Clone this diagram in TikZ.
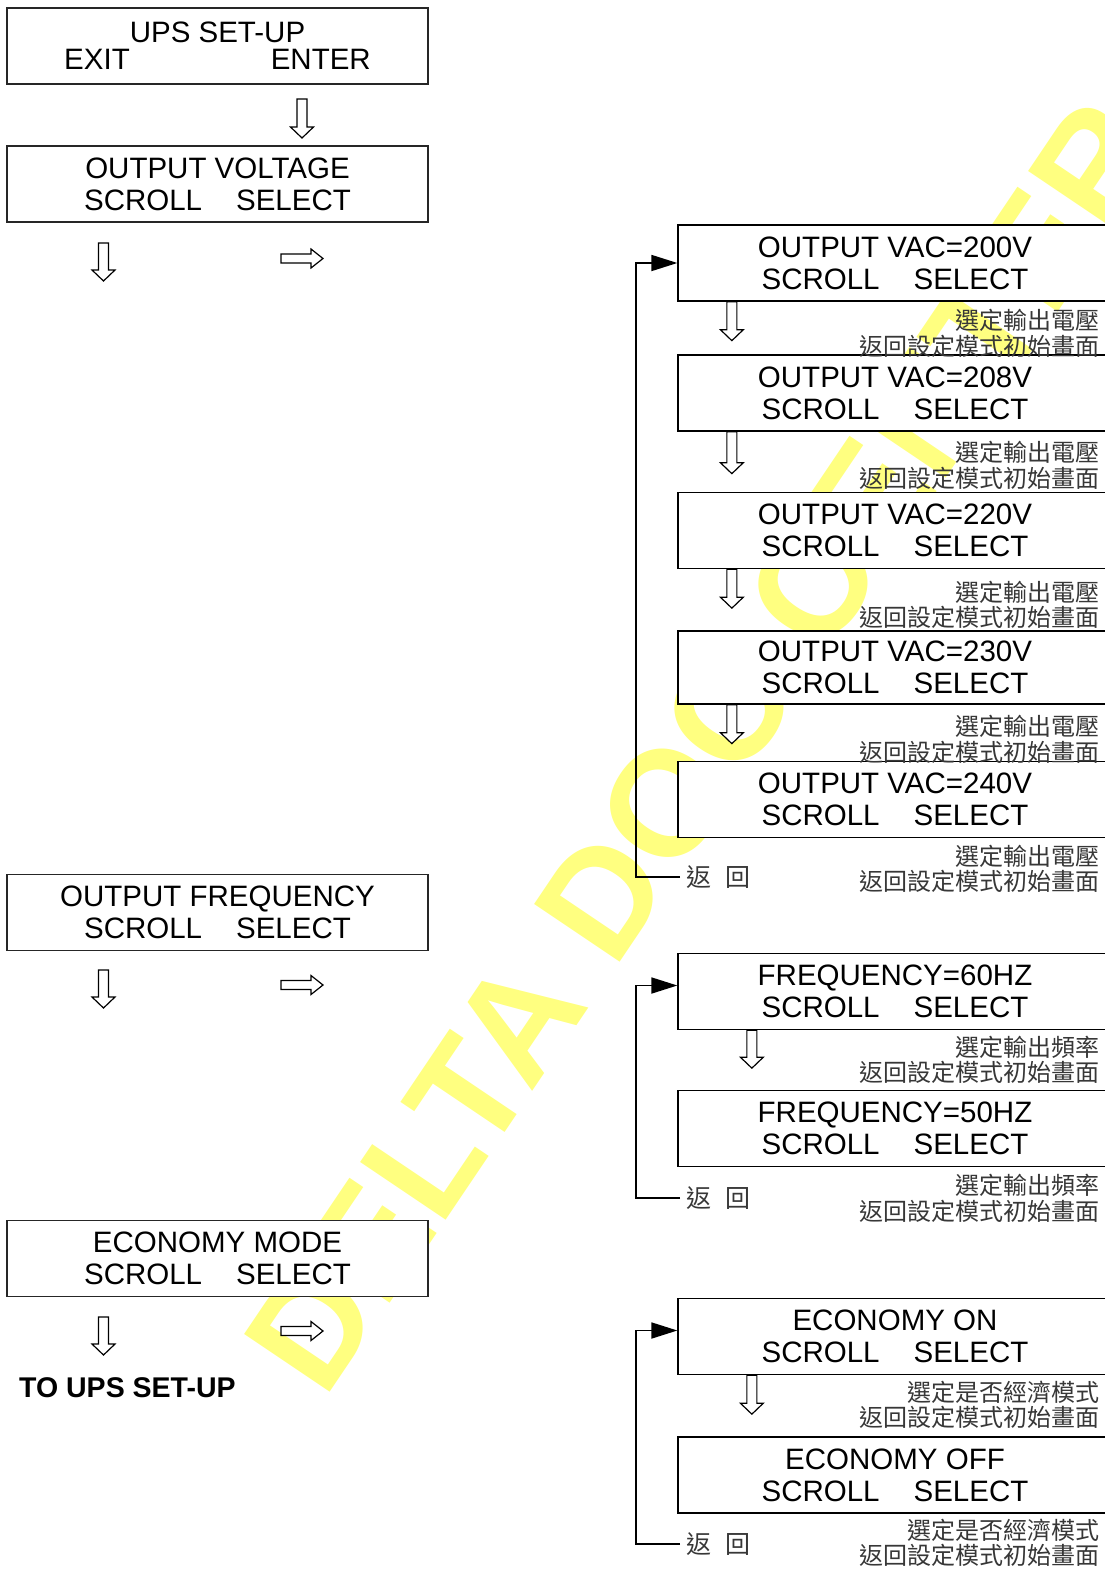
\documentclass[tikz,border=0pt]{standalone}
\usepackage{fontspec}
\setmainfont{Liberation Sans}
\newfontfamily\cjkfont{Noto Sans CJK TC}
\usetikzlibrary{arrows.meta}
\definecolor{wmyellow}{RGB}{255,255,128}
\definecolor{cjkgray}{RGB}{55,55,55}

\begin{document}
\begin{tikzpicture}[x=1pt,y=-1pt,
  screen/.style={draw=black!85, line width=1.3pt, fill=white, minimum height=76pt,
    inner sep=0pt, align=center, font=\fontsize{29.5}{32}\selectfont},
  leftscreen/.style={screen, minimum width=421pt},
  rightscreen/.style={screen, draw=black, minimum width=434pt},
  note/.style={font=\cjkfont\fontsize{24}{25.5}\selectfont, text=cjkgray,
    align=right, anchor=east, inner sep=0pt},
  backlabel/.style={font=\cjkfont\fontsize{25}{25}\selectfont, text=cjkgray,
    anchor=west, inner xsep=6pt, inner ysep=0pt},
  loopline/.style={line width=1.8pt, -{Triangle[length=26pt,width=16pt]}},
  hollow/.style={draw=black, line width=1.2pt, fill=white, line join=miter},
  pics/downarrow/.style={code={
    \path[hollow] (-5,0) -- (-5,#1-11) -- (-11.5,#1-11) -- (0,#1)
      -- (11.5,#1-11) -- (5,#1-11) -- (5,0) -- cycle;}},
  pics/rightarrow/.style={code={
    \path[hollow] (0,-4.5) -- (30,-4.5) -- (30,-9.5) -- (42,0)
      -- (30,9.5) -- (30,4.5) -- (0,4.5) -- cycle;}},
]
\useasboundingbox (0,0) rectangle (1105,1571);
\clip (0,0) rectangle (1105,1571);
\fill[white] (0,0) rectangle (1105,1571);

% background stamp
\node[anchor=base west, rotate=56, inner sep=0pt, text=wmyellow,
  font=\bfseries\fontsize{150}{150}\selectfont] (stamp) at (324,1401) {DELTA DOC CENTER};

% left column: menu screens
\node[leftscreen, font=\fontsize{29.5}{27}\selectfont] (setup) at (217.5,46)
  {UPS SET-UP\\EXIT\hspace{141pt}ENTER};
\node[leftscreen] (volt) at (217.5,184) {OUTPUT VOLTAGE\\SCROLL\hspace{34pt}SELECT};
\node[leftscreen] (freq) at (217.5,912.5) {OUTPUT FREQUENCY\\SCROLL\hspace{34pt}SELECT};
\node[leftscreen] (eco) at (217.5,1258.5) {ECONOMY MODE\\SCROLL\hspace{34pt}SELECT};

\pic at (302,99) {downarrow=39};
\pic at (103.5,243) {downarrow=38};
\pic at (281,258.5) {rightarrow};
\pic at (103.5,970) {downarrow=38};
\pic at (281,985) {rightarrow};
\pic at (103.5,1317) {downarrow=38};
\pic at (281,1331) {rightarrow};

\node[anchor=base west, inner sep=0pt, font=\bfseries\fontsize{28.5}{30}\selectfont]
  (toups) at (19,1397) {TO UPS SET-UP};

% right column: voltage options
\node[rightscreen] (v200) at (895,263) {OUTPUT VAC=200V\\SCROLL\hspace{34pt}SELECT};
\node[rightscreen] (v208) at (895,393) {OUTPUT VAC=208V\\SCROLL\hspace{34pt}SELECT};
\node[rightscreen] (v220) at (895,530.5) {OUTPUT VAC=220V\\SCROLL\hspace{34pt}SELECT};
\node[rightscreen, minimum height=73pt] (v230) at (895,667.5) {OUTPUT VAC=230V\\SCROLL\hspace{34pt}SELECT};
\node[rightscreen] (v240) at (895,799.5) {OUTPUT VAC=240V\\SCROLL\hspace{34pt}SELECT};

\pic at ([xshift=54.5pt]v200.south west) {downarrow=39};
\pic at ([xshift=54.5pt]v208.south west) {downarrow=42};
\pic at ([xshift=54.5pt]v220.south west) {downarrow=39};
\pic at ([xshift=54.5pt]v230.south west) {downarrow=39};

\node[note] (n200) at (1100,333.5) {選定輸出電壓\\返回設定模式初始畫面};
\node[note] (n208) at (1100,465.5) {選定輸出電壓\\返回設定模式初始畫面};
\node[note] (n220) at (1100,605) {選定輸出電壓\\返回設定模式初始畫面};
\node[note] (n230) at (1100,739.5) {選定輸出電壓\\返回設定模式初始畫面};
\node[note] (n240) at (1100,869) {選定輸出電壓\\返回設定模式初始畫面};

\node[backlabel] (vback) at (680,877) {返\hspace{14pt}回};
\draw[loopline] (vback.west) -- ++(-44,0) |- (v200.west);

% right column: frequency options
\node[rightscreen] (f60) at (895,991.5) {FREQUENCY=60HZ\\SCROLL\hspace{34pt}SELECT};
\node[rightscreen] (f50) at (895,1128.5) {FREQUENCY=50HZ\\SCROLL\hspace{34pt}SELECT};
\pic at ([xshift=74.5pt]f60.south west) {downarrow=38};

\node[note] (nf60) at (1100,1060) {選定輸出頻率\\返回設定模式初始畫面};
\node[note] (nf50) at (1100,1198.5) {選定輸出頻率\\返回設定模式初始畫面};

\node[backlabel] (fback) at (680,1198) {返\hspace{14pt}回};
\draw[loopline] (fback.west) -- ++(-44,0) |- ([yshift=6pt]f60.west);

% right column: economy options
\node[rightscreen] (eon) at (895,1336.5) {ECONOMY ON\\SCROLL\hspace{34pt}SELECT};
\node[rightscreen] (eoff) at (895,1475) {ECONOMY OFF\\SCROLL\hspace{34pt}SELECT};
\pic at ([xshift=74.5pt]eon.south west) {downarrow=39};

\node[note] (neon) at (1100,1405) {選定是否經濟模式\\返回設定模式初始畫面};
\node[note] (neoff) at (1100,1543) {選定是否經濟模式\\返回設定模式初始畫面};

\node[backlabel] (eback) at (680,1544) {返\hspace{14pt}回};
\draw[loopline] (eback.west) -- ++(-44,0) |- ([yshift=6pt]eon.west);
\end{tikzpicture}
\end{document}
